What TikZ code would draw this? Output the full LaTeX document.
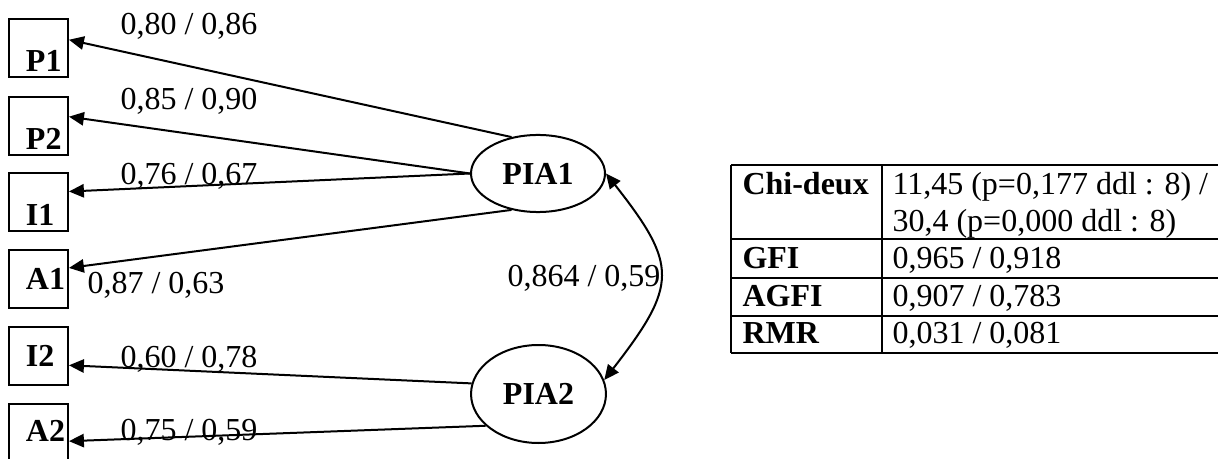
\documentclass[tikz,border=0pt]{standalone}
\usepackage{fontspec}
\setmainfont[Scale=1.2]{Liberation Serif}
\usetikzlibrary{arrows.meta,shapes.geometric}

\begin{document}
\begin{tikzpicture}[x=0.375pt,y=-0.375pt,
  var/.style={draw,line width=0.75pt,minimum width=22.1pt,minimum height=21.75pt,
    inner sep=0pt,text width=9.4pt,align=left,font=\bfseries,text height=7.9pt,text depth=0pt},
  lowvar/.style={var,text height=17.5pt},
  latent/.style={draw,ellipse,line width=0.75pt,inner sep=0pt,font=\bfseries,
    text height=7.9pt,text depth=0pt},
  load/.style={line width=0.75pt,-{Triangle[length=5.6pt,width=5pt]}},
  coef/.style={anchor=base,inner sep=0pt},
  cell/.style={anchor=base west,inner sep=0pt},
  tab/.style={line width=0.75pt}]
  \path[use as bounding box,clip] (0,0) rectangle (1218,459);

  % indicateurs
  \node[lowvar] (P1) at (38.5,48.5) {P1};
  \node[lowvar] (P2) at (38.5,126) {P2};
  \node[lowvar] (I1) at (38.5,202) {I1};
  \node[var] (A1) at (38.5,279) {A1};
  \node[var] (I2) at (38.5,356) {I2};
  \node[var,text height=6.5pt] (A2) at (38.5,433) {A2};

  % facteurs
  \node[latent,minimum width=50.25pt,minimum height=28.9pt] (PIA1) at (538,173.5) {PIA1};
  \node[latent,minimum width=50.6pt,minimum height=36.75pt] (PIA2) at (538.5,394) {PIA2};

  \draw[load] (PIA1.126) -- (P1.16);
  \draw[load] (PIA1.west) -- (P2.17);
  \draw[load] (PIA1.west) -- (I1.19);
  \draw[load] (PIA1.234) -- (A1.20);
  \draw[load] (PIA2.171) -- (I2.-17);
  \draw[load] (PIA2.211) -- (A2.-15);
  \draw[load,{Triangle[length=5.6pt,width=5pt]}-{Triangle[length=5.6pt,width=5pt]}]
    (PIA1.east) .. controls (678,265) and (678,285) .. (PIA2.12);

  % coefficients
  \node[coef] (cP1) at (189,35) {0,80 / 0,86};
  \node[coef] (cP2) at (189,110) {0,85 / 0,90};
  \node[coef] (cI1) at (189,185) {0,76 / 0,67};
  \node[coef] (cA1) at (156,293) {0,87 / 0,63};
  \node[coef] (cI2) at (189,367) {0,60 / 0,78};
  \node[coef] (cA2) at (189,440) {0,75 / 0,59};
  \node[coef] (cPIA) at (584,287) {0,864 / 0,59};

  % tableau d'ajustement
  \foreach \y in {165,239,278,316,353}
    \draw[tab] (731,\y) -- (1240,\y);
  \draw[tab] (731,165) -- (731,353) (882,165) -- (882,353);
  \node[cell,font=\bfseries] (tChi) at (742,195) {Chi-deux};
  \node[cell] (vChi) at (892,195) {11,45 (p=0,177 ddl : 8) /};
  \node[cell] (vChib) at (892,232) {30,4 (p=0,000 ddl : 8)};
  \node[cell,font=\bfseries] (tGFI) at (742,268) {GFI};
  \node[cell] (vGFI) at (892,268) {0,965 / 0,918};
  \node[cell,font=\bfseries] (tAGFI) at (742,306) {AGFI};
  \node[cell] (vAGFI) at (892,306) {0,907 / 0,783};
  \node[cell,font=\bfseries] (tRMR) at (742,343) {RMR};
  \node[cell] (vRMR) at (892,343) {0,031 / 0,081};
\end{tikzpicture}
\end{document}
